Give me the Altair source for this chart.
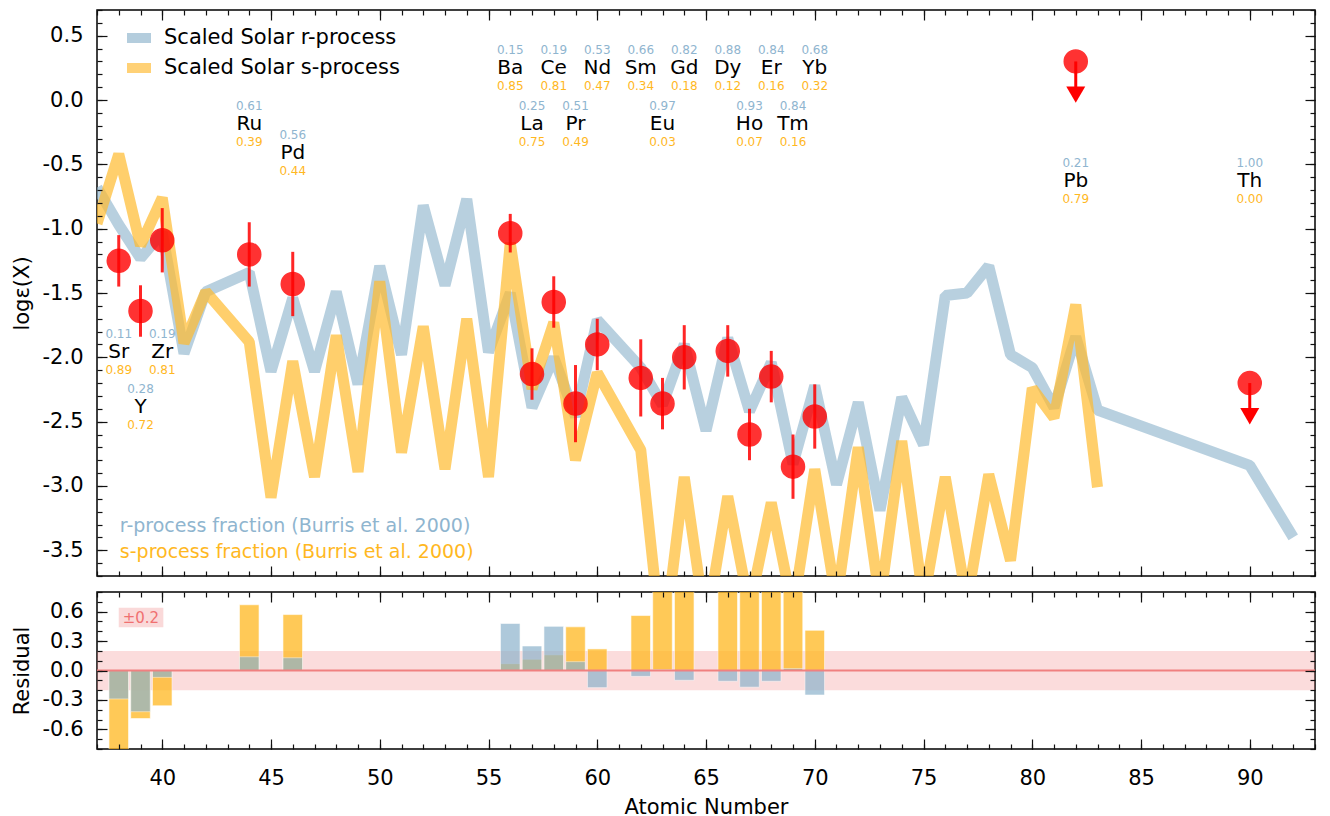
import altair as alt
import pandas as pd

FONT = "DejaVu Sans"
BLUE = "#8DB3CC"
ORANGE = "#FFBA2E"
ORANGE_BAR = "#FFB81F"
BLUE_TXT = "#8FB5CF"
ORANGE_TXT = "#FFB81F"
RED = "#FF0000"
CORAL = "#F08080"

W, HT, HB = 1218, 566, 157

# ---- scaled solar r-process pattern (atomic number, log eps) ----
r_z = [37, 38, 39, 40, 41, 42, 44, 45, 46, 47, 48, 49, 50, 51, 52, 53, 54, 55, 56, 57, 58, 59, 60,
       62, 63, 64, 65, 66, 67, 68, 69, 70, 71, 72, 73, 74, 75, 76, 77, 78, 79, 80, 81, 82, 83, 90, 92]
r_val = [-0.68, -0.97, -1.23, -1.03, -1.97, -1.49, -1.34, -2.11, -1.54, -2.11, -1.49, -2.21, -1.29,
         -1.98, -0.82, -1.44, -0.77, -1.96, -1.50, -2.39, -2.00, -2.46, -1.71,
         -2.08, -2.37, -1.90, -2.57, -1.85, -2.42, -2.04, -2.83, -2.22, -2.99, -2.35, -3.19, -2.31,
         -2.68, -1.52, -1.50, -1.29, -1.98, -2.08, -2.39, -1.84, -2.41, -2.84, -3.40]

# ---- scaled solar s-process pattern ----
s_z = [37, 38, 39, 40, 41, 42, 44, 45, 46, 47, 48, 49, 50, 51, 52, 53, 54, 55, 56, 57, 58, 59, 60,
       62, 63, 64, 65, 66, 67, 68, 69, 70, 71, 72, 73, 74, 75, 76, 77, 78, 79, 80, 81, 82, 83]
s_val = [-0.96, -0.42, -1.13, -0.76, -1.89, -1.49, -1.88, -3.09, -2.03, -2.93, -1.83, -2.89, -1.41,
         -2.74, -1.76, -2.87, -1.70, -2.93, -1.11, -2.245, -1.73, -2.80, -2.12,
         -2.72, -4.30, -2.93, -4.10, -3.08, -3.95, -3.13, -3.97, -2.87, -3.90, -2.70, -3.90, -2.65,
         -3.90, -2.93, -3.90, -2.91, -3.58, -2.24, -2.47, -1.59, -3.01]

# ---- observed abundances ----
obs_z = [38, 39, 40, 44, 46, 56, 57, 58, 59, 60, 62, 63, 64, 66, 67, 68, 69, 70]
obs_val = [-1.25, -1.64, -1.09, -1.20, -1.43, -1.035, -2.13, -1.57, -2.36, -1.90, -2.16, -2.36,
           -2.00, -1.95, -2.60, -2.15, -2.85, -2.46]
obs_err = [0.20, 0.20, 0.25, 0.25, 0.25, 0.15, 0.20, 0.20, 0.30, 0.20, 0.30, 0.20, 0.25, 0.20,
           0.20, 0.20, 0.25, 0.25]

# ---- upper limits ----
ul_z = [82, 90]
ul_val = [0.30, -2.20]
ARROW = 0.32

# ---- element labels with r / s fractions (Burris et al. 2000) ----
lab_el = ["Sr", "Y", "Zr", "Ru", "Pd", "Ba", "La", "Ce", "Pr", "Nd", "Sm", "Eu", "Gd", "Dy", "Ho",
          "Er", "Tm", "Yb", "Pb", "Th"]
lab_z = [38, 39, 40, 44, 46, 56, 57, 58, 59, 60, 62, 63, 64, 66, 67, 68, 69, 70, 82, 90]
lab_fr = [0.11, 0.28, 0.19, 0.61, 0.56, 0.15, 0.25, 0.19, 0.51, 0.53, 0.66, 0.97, 0.82, 0.88, 0.93,
          0.84, 0.84, 0.68, 0.21, 1.00]
lab_fs = [0.89, 0.72, 0.81, 0.39, 0.44, 0.85, 0.75, 0.81, 0.49, 0.47, 0.34, 0.03, 0.18, 0.12, 0.07,
          0.16, 0.16, 0.32, 0.79, 0.00]
lab_y = [-1.955, -2.39, -1.955, -0.19, -0.41, 0.247, -0.19, 0.247, -0.19, 0.247, 0.247, -0.19,
         0.247, 0.247, -0.19, 0.247, -0.19, 0.247, -0.63, -0.63]

# ---- residuals (observed - scaled pattern) ----
res_z = [38, 39, 40, 44, 46, 56, 57, 58, 59, 60, 62, 63, 64, 66, 67, 68, 69, 70]
res_r = [-0.29, -0.42, -0.07, 0.14, 0.13, 0.48, 0.25, 0.45, 0.09, -0.175, -0.06, 0.01, -0.10,
         -0.11, -0.17, -0.11, 0.02, -0.25]
res_s = [-0.85, -0.49, -0.36, 0.67, 0.57, 0.07, 0.115, 0.16, 0.445, 0.22, 0.56, 1.95, 0.93, 1.13,
         1.35, 0.98, 1.12, 0.41]

note_text = ["r-process fraction (Burris et al. 2000)", "s-process fraction (Burris et al. 2000)"]
note_x = [38.05, 38.05]
note_y = [-3.31, -3.51]
note_col = [BLUE_TXT, ORANGE_TXT]

band = [-0.2, 0.2]
tag_text = ["±0.2"]
tag_x = [39.02]
tag_y = [0.54]
tag_box_x = [38.0, 40.05]
tag_box_y = [0.44, 0.64]

SERIES = ["Scaled Solar r-process", "Scaled Solar s-process"]

XMAJ = [40, 45, 50, 55, 60, 65, 70, 75, 80, 85, 90]
XMIN = list(range(37, 94))
YT_MAJ = [0.5, 0.0, -0.5, -1.0, -1.5, -2.0, -2.5, -3.0, -3.5]
YT_MIN = [round(-3.7 + 0.1 * i, 1) for i in range(45)]
YB_MAJ = [-0.6, -0.3, 0.0, 0.3, 0.6]
YB_MIN = [round(-0.8 + 0.1 * i, 1) for i in range(17)]

x_scale = alt.Scale(domain=[37, 93], nice=False, zero=False)
yt_scale = alt.Scale(domain=[-3.7, 0.7], nice=False, zero=False)
yb_scale = alt.Scale(domain=[-0.8, 0.8], nice=False, zero=False)
color_scale = alt.Scale(domain=SERIES, range=[BLUE, ORANGE])

LABEL_EXPR = "replace(format(datum.value, '.1f'), '\u2212', '-')"


def tick_axis(orient, values, size):
    return alt.Axis(orient=orient, values=values, tickSize=size, offset=-size, ticks=True,
                    labels=False, domain=False, grid=False, title=None, tickColor="#111",
                    tickWidth=1.2, zindex=3)


def label_y(title, values):
    return alt.Axis(orient="left", values=values, ticks=False, domain=False, grid=False,
                    labelFontSize=21, labelColor="black", labelPadding=14, labelOverlap=False,
                    labelExpr=LABEL_EXPR, title=title, titleFontSize=21,
                    titleFontWeight="normal", titleColor="black", titlePadding=10)


label_x = alt.Axis(orient="bottom", values=XMAJ, ticks=False, domain=False, grid=False,
                   labelFontSize=21, labelColor="black", labelPadding=18, labelOverlap=False,
                   labelFlush=False, format="d", title="Atomic Number", titleFontSize=21,
                   titleFontWeight="normal", titleColor="black", titlePadding=8)

legend = alt.Legend(orient="none", legendX=25, legendY=13, title=None, symbolType="stroke",
                    symbolStrokeWidth=10, symbolSize=576, symbolOpacity=0.65, labelFontSize=21,
                    labelColor="black", labelOffset=8, rowPadding=0, clipHeight=30, padding=0,
                    labelLimit=600)

df_r = pd.DataFrame({"z": r_z, "v": r_val, "series": SERIES[0]})
df_s = pd.DataFrame({"z": s_z, "v": s_val, "series": SERIES[1]})
df_obs = pd.DataFrame({"z": obs_z, "v": obs_val, "err": obs_err})
df_ul = pd.DataFrame({"z": ul_z, "v": ul_val})
df_lab = pd.DataFrame({"z": lab_z, "el": lab_el, "fr": lab_fr, "fs": lab_fs, "y": lab_y})
df_note = pd.DataFrame({"x": note_x, "y": note_y, "t": note_text, "c": note_col})

# ---------------- top panel ----------------
r_line = alt.Chart(df_r).mark_line(strokeWidth=11, opacity=0.62, strokeJoin="bevel",
                                   strokeCap="butt", clip=True).encode(
    x=alt.X("z:Q", scale=x_scale, axis=tick_axis("bottom", XMAJ, 10)),
    y=alt.Y("v:Q", scale=yt_scale, axis=label_y("logε(X)", YT_MAJ)),
    color=alt.Color("series:N", scale=color_scale, legend=legend),
)
s_line = alt.Chart(df_s).mark_line(strokeWidth=11, opacity=0.7, strokeJoin="bevel",
                                   strokeCap="butt", clip=True).encode(
    x=alt.X("z:Q", scale=x_scale, axis=tick_axis("bottom", XMIN, 5)),
    y=alt.Y("v:Q", scale=yt_scale, axis=tick_axis("left", YT_MAJ, 10)),
    color=alt.Color("series:N", scale=color_scale, legend=legend),
)
pts = alt.Chart(df_obs).mark_circle(size=530, color=RED, opacity=0.8, stroke=RED,
                                    strokeWidth=1.5).encode(
    x=alt.X("z:Q", scale=x_scale, axis=tick_axis("top", XMIN, 5)),
    y=alt.Y("v:Q", scale=yt_scale, axis=tick_axis("right", YT_MAJ, 10)),
)
err = alt.Chart(df_obs).transform_calculate(
    lo="datum.v - datum.err", hi="datum.v + datum.err"
).mark_rule(color=RED, strokeWidth=3, opacity=0.85).encode(
    x=alt.X("z:Q", scale=x_scale, axis=tick_axis("top", XMAJ, 10)),
    y=alt.Y("lo:Q", scale=yt_scale, axis=tick_axis("left", YT_MIN, 5)),
    y2="hi:Q",
)
ul_pts = alt.Chart(df_ul).mark_circle(size=530, color=RED, opacity=0.8, stroke=RED,
                                      strokeWidth=1.5).encode(
    x=alt.X("z:Q", scale=x_scale, axis=None),
    y=alt.Y("v:Q", scale=yt_scale, axis=tick_axis("right", YT_MIN, 5)),
)
ul_shaft = alt.Chart(df_ul).transform_calculate(
    end=f"datum.v - {ARROW} + 0.1"
).mark_rule(color=RED, strokeWidth=3).encode(
    x=alt.X("z:Q", scale=x_scale, axis=None),
    y=alt.Y("v:Q", scale=yt_scale, axis=None),
    y2="end:Q",
)
ul_head = alt.Chart(df_ul).transform_calculate(
    tip=f"datum.v - {ARROW}"
).mark_point(shape="triangle-down", size=361, filled=True, color=RED, opacity=1,
             yOffset=-8).encode(
    x=alt.X("z:Q", scale=x_scale, axis=None),
    y=alt.Y("tip:Q", scale=yt_scale, axis=None),
)
sym = alt.Chart(df_lab).mark_text(fontSize=20, color="black", baseline="middle").encode(
    x=alt.X("z:Q", scale=x_scale, axis=None),
    y=alt.Y("y:Q", scale=yt_scale, axis=None),
    text="el:N",
)
frt = alt.Chart(df_lab).mark_text(fontSize=12, color=BLUE_TXT, baseline="middle", dy=-18).encode(
    x=alt.X("z:Q", scale=x_scale, axis=None),
    y=alt.Y("y:Q", scale=yt_scale, axis=None),
    text=alt.Text("fr:Q", format=".2f"),
)
fst = alt.Chart(df_lab).mark_text(fontSize=12, color=ORANGE_TXT, baseline="middle", dy=18).encode(
    x=alt.X("z:Q", scale=x_scale, axis=None),
    y=alt.Y("y:Q", scale=yt_scale, axis=None),
    text=alt.Text("fs:Q", format=".2f"),
)
notes = alt.Chart(df_note).mark_text(fontSize=19, align="left", baseline="middle").encode(
    x=alt.X("x:Q", scale=x_scale, axis=None),
    y=alt.Y("y:Q", scale=yt_scale, axis=None),
    text="t:N",
    color=alt.Color("c:N", scale=None),
)

top = alt.layer(r_line, s_line, pts, err, ul_pts, ul_shaft, ul_head, sym, frt, fst, notes).resolve_axis(
    x="independent", y="independent"
).properties(width=W, height=HT)

# ---------------- residual panel ----------------
df_band = pd.DataFrame({"x0": [37], "x1": [93], "lo": [band[0]], "hi": [band[1]]})
df_res = pd.DataFrame({"z": res_z, "r": res_r, "s": res_s, "zero": 0.0})
df_zero = pd.DataFrame({"zero": [0.0]})
df_tag = pd.DataFrame({"t": tag_text, "tx": tag_x, "ty": tag_y,
                       "bx0": [tag_box_x[0]], "bx1": [tag_box_x[1]],
                       "by0": [tag_box_y[0]], "by1": [tag_box_y[1]]})

band_l = alt.Chart(df_band).mark_rect(color=CORAL, opacity=0.28).encode(
    x=alt.X("x0:Q", scale=x_scale, axis=tick_axis("top", XMIN, 5)),
    x2="x1:Q",
    y=alt.Y("lo:Q", scale=yb_scale, axis=label_y("Residual", YB_MAJ)),
    y2="hi:Q",
)
s_bar = alt.Chart(df_res).transform_calculate(
    x0="datum.z - 0.45", x1="datum.z + 0.45"
).mark_bar(color=ORANGE_BAR, opacity=0.75, clip=True, stroke="white", strokeWidth=0.6).encode(
    x=alt.X("x0:Q", scale=x_scale, axis=label_x),
    x2="x1:Q",
    y=alt.Y("s:Q", scale=yb_scale, axis=tick_axis("left", YB_MAJ, 10)),
    y2="zero:Q",
)
r_bar = alt.Chart(df_res).transform_calculate(
    x0="datum.z - 0.45", x1="datum.z + 0.45"
).mark_bar(color=BLUE, opacity=0.7, clip=True, stroke="white", strokeWidth=0.6).encode(
    x=alt.X("x0:Q", scale=x_scale, axis=tick_axis("bottom", XMAJ, 10)),
    x2="x1:Q",
    y=alt.Y("r:Q", scale=yb_scale, axis=tick_axis("left", YB_MIN, 5)),
    y2="zero:Q",
)
zero_l = alt.Chart(df_zero).mark_rule(color=CORAL, strokeWidth=2).encode(
    y=alt.Y("zero:Q", scale=yb_scale, axis=tick_axis("right", YB_MAJ, 10)),
)
box_l = alt.Chart(df_tag).mark_rect(color=CORAL, opacity=0.3).encode(
    x=alt.X("bx0:Q", scale=x_scale, axis=tick_axis("bottom", XMIN, 5)),
    x2="bx1:Q",
    y=alt.Y("by0:Q", scale=yb_scale, axis=tick_axis("right", YB_MIN, 5)),
    y2="by1:Q",
)
tag_l = alt.Chart(df_tag).mark_text(color="#F07070", fontSize=15, baseline="middle").encode(
    x=alt.X("tx:Q", scale=x_scale, axis=tick_axis("top", XMAJ, 10)),
    y=alt.Y("ty:Q", scale=yb_scale, axis=None),
    text="t:N",
)

bottom = alt.layer(band_l, s_bar, r_bar, zero_l, box_l, tag_l).resolve_axis(
    x="independent", y="independent"
).properties(width=W, height=HB)

chart = alt.vconcat(top, bottom, spacing=12).resolve_scale(color="independent").properties(
    padding={"left": 2, "right": 2, "top": 0, "bottom": 0}
).configure(font=FONT).configure_view(stroke="black", strokeWidth=1.5)

chart.save("out.html", embed_options={"renderer": "svg", "actions": False})
